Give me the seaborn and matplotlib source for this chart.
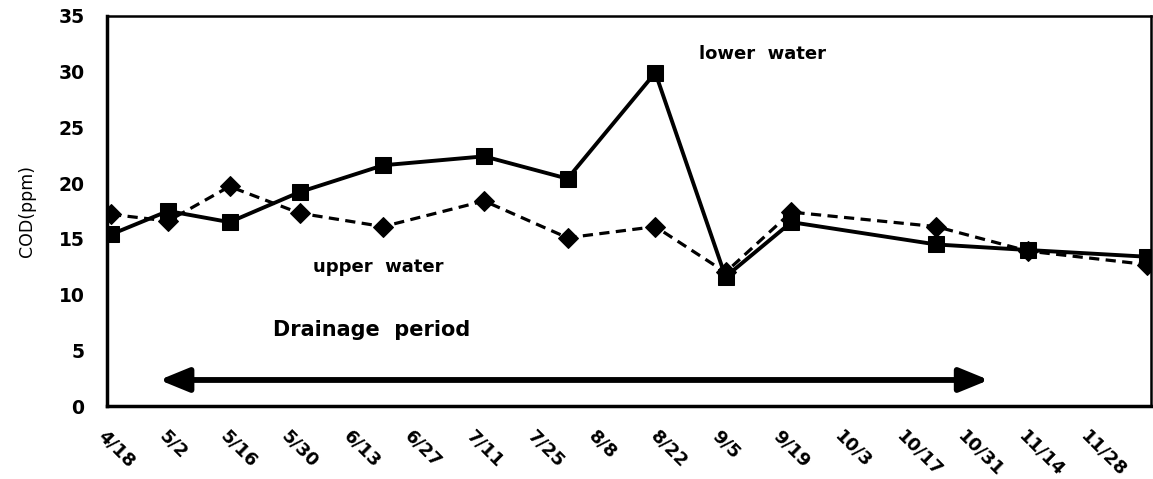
import pandas as pd
import seaborn as sns
import matplotlib.pyplot as plt

# sampling dates (year is arbitrary) and COD values
dates = ["4/19", "5/2", "5/16", "6/1", "6/20", "7/13", "8/1", "8/21",
         "9/6", "9/21", "10/24", "11/14", "12/11"]
lower_water = [15.4, 17.5, 16.5, 19.2, 21.6, 22.4, 20.4, 29.9,
               11.6, 16.5, 14.5, 14.0, 13.4]
upper_water = [17.2, 16.6, 19.7, 17.3, 16.1, 18.4, 15.1, 16.1,
               12.0, 17.4, 16.1, 13.9, 12.7]
tick_dates = ["4/18", "5/2", "5/16", "5/30", "6/13", "6/27", "7/11", "7/25",
              "8/8", "8/22", "9/5", "9/19", "10/3", "10/17", "10/31",
              "11/14", "11/28"]
drain_start, drain_end = "4/30", "11/5"

YEAR = 2003


def to_date(s):
    return pd.to_datetime(f"{YEAR}/{s}", format="%Y/%m/%d")


df = pd.DataFrame({
    "date": [to_date(d) for d in dates],
    "lower": lower_water,
    "upper": upper_water,
})

sns.set_style("white")
plt.rcParams["font.family"] = ["DejaVu Sans"]
plt.rcParams["text.color"] = "black"
plt.rcParams["axes.labelcolor"] = "black"
plt.rcParams["xtick.color"] = "black"
plt.rcParams["ytick.color"] = "black"

fig = plt.figure(figsize=(11.53, 4.79), dpi=100)
ax = fig.add_axes([0.0925, 0.152, 0.906, 0.815])

sns.lineplot(data=df, x="date", y="upper", ax=ax, color="black",
             linestyle="--", linewidth=2.3, marker="D", markersize=10,
             markeredgecolor="black", dashes=False)
ax.lines[-1].set_linestyle((0, (3.2, 2)))
sns.lineplot(data=df, x="date", y="lower", ax=ax, color="black",
             linewidth=2.8, marker="s", markersize=11,
             markeredgecolor="black")

ax.set_ylim(0, 35)
ax.set_yticks(range(0, 36, 5))
ax.set_xlim(to_date("4/18"), to_date("4/18") + pd.Timedelta(days=238))
ticks = [to_date(t) for t in tick_dates]
ax.set_xticks(ticks)
ax.set_xticklabels(tick_dates, rotation=-45, ha="left", va="top",
                   rotation_mode="anchor", fontsize=13, fontweight="bold")
for lab in ax.get_yticklabels():
    lab.set_fontsize(13.5)
    lab.set_fontweight("bold")

ax.tick_params(axis="both", direction="in", length=5, width=1.5, color="black")
ax.tick_params(axis="y", pad=16)
ax.tick_params(axis="x", pad=15)
for side in ["left", "bottom"]:
    ax.spines[side].set_linewidth(2.5)
for side in ["top", "right"]:
    ax.spines[side].set_linewidth(1.8)
for sp in ax.spines.values():
    sp.set_color("black")

ax.set_xlabel("")
ax.set_ylabel("COD(ppm)", fontsize=12.5, labelpad=16)

ax.text(to_date("8/31"), 31.6, "lower  water", fontsize=13,
        fontweight="bold", va="center", ha="left")
ax.text(to_date("6/4"), 12.5, "upper  water", fontsize=13,
        fontweight="bold", va="center", ha="left")
ax.text(to_date("5/26"), 6.8, "Drainage  period", fontsize=15,
        fontweight="bold", va="center", ha="left")
ax.annotate("", xy=(to_date(drain_start), 2.35), xytext=(to_date(drain_end), 2.35),
            arrowprops=dict(arrowstyle="<|-|>,head_length=1.1,head_width=0.45",
                            color="black", lw=4.2, mutation_scale=16,
                            shrinkA=0, shrinkB=0))

fig.savefig("out.png", dpi=100)
